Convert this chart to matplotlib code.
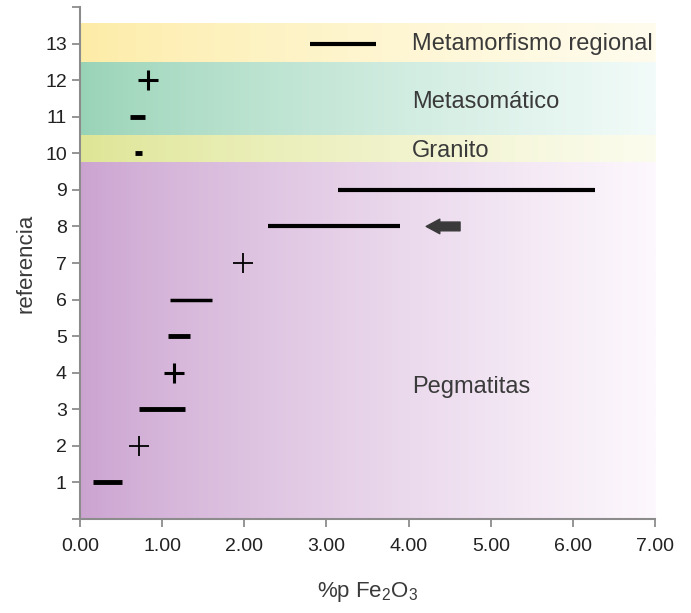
import numpy as np
import matplotlib.pyplot as plt

plt.rcParams["mathtext.fontset"] = "custom"
plt.rcParams["mathtext.rm"] = "Liberation Sans"
plt.rcParams["mathtext.it"] = "Liberation Sans"

# ranges of %p Fe2O3 per reference (min, max); equal values -> single point (+)
refs = [1, 3, 5, 6, 8, 9, 10, 11, 13]
x_min = [0.16, 0.72, 1.07, 1.10, 2.29, 3.14, 0.67, 0.61, 2.80]
x_max = [0.51, 1.28, 1.34, 1.61, 3.90, 6.27, 0.75, 0.79, 3.60]
seg_width = [3.5, 3.5, 3.5, 2.5, 3.0, 3.0, 3.5, 3.5, 3.0]

point_refs = [2, 4, 7, 12]
point_x = [0.72, 1.15, 1.98, 0.83]
point_bold = [False, True, False, True]

# background fields: (label, y_low, y_high, left colour, right colour, label y)
band_names = ["Pegmatitas", "Granito", "Metasomático", "Metamorfismo regional"]
band_low = [0.0, 9.75, 10.5, 12.5]
band_high = [9.75, 10.5, 12.5, 13.55]
band_left = [(203, 163, 208), (222, 229, 148), (152, 211, 182), (253, 236, 166)]
band_right = [(253, 248, 253), (252, 252, 238), (242, 251, 249), (255, 252, 238)]
label_y = [3.6, 10.05, 11.4, 13.0]

fig = plt.figure(figsize=(6.91, 6.13), dpi=100)
ax = fig.add_axes([0.1158, 0.1533, 0.8322, 0.8353])

for lo, hi, cl, cr in zip(band_low, band_high, band_left, band_right):
    t = np.linspace(0, 1, 256)[None, :, None] ** 0.8
    grad = (np.array(cl)[None, None, :] * (1 - t) + np.array(cr)[None, None, :] * t) / 255.0
    ax.imshow(grad, extent=(0, 7, lo, hi), aspect="auto", zorder=0, interpolation="bilinear")

for y, a, b, w in zip(refs, x_min, x_max, seg_width):
    ax.plot([a, b], [y, y], color="black", lw=w, solid_capstyle="butt", zorder=3)

for y, x, bold in zip(point_refs, point_x, point_bold):
    ax.plot(x, y, marker="+", ms=14, mew=2.2 if bold else 1.3, color="black", zorder=3)

ax.annotate("", xy=(4.18, 8), xytext=(4.66, 8),
            arrowprops=dict(arrowstyle="simple,head_length=0.7,head_width=0.75,tail_width=0.45",
                            color="#3a3a3a", mutation_scale=14))

for name, y in zip(band_names, label_y):
    ax.text(4.04, y, name, fontsize=17, color="#3a3a3a", va="center", ha="left",
            family="Liberation Sans")

ax.set_xlim(0, 7)
ax.set_ylim(0, 14)
ax.set_xticks(np.arange(0, 8, 1))
ax.set_xticklabels([f"{v:.2f}" for v in np.arange(0, 8, 1)])
ax.set_yticks(np.arange(0, 15, 1))
ax.set_yticklabels([""] + [str(v) for v in range(1, 14)] + [""])
for s in ["top", "right"]:
    ax.spines[s].set_visible(False)
for s in ["left", "bottom"]:
    ax.spines[s].set_color("#8c8c8c")
    ax.spines[s].set_linewidth(1.5)
ax.tick_params(colors="#8c8c8c", labelcolor="#222222", labelsize=14, length=6, width=1.3)
ax.tick_params(axis="x", pad=8)
for lab in ax.get_xticklabels() + ax.get_yticklabels():
    lab.set_family(["Liberation Sans Narrow", "Liberation Sans"])

ax.set_xlabel(r"%p $\mathrm{Fe_2O_3}$", fontsize=16, color="#3a3a3a", labelpad=18,
              family="Liberation Sans")
ax.set_ylabel("referencia", fontsize=16, color="#3a3a3a", labelpad=6,
              family="Liberation Sans")

fig.savefig("out.png", dpi=100)
